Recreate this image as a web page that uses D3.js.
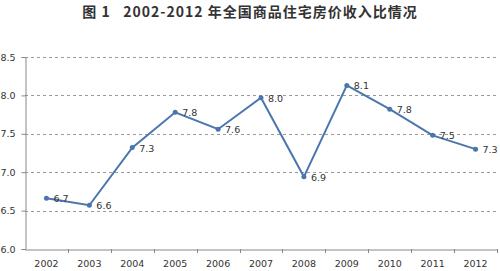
<!DOCTYPE html>
<html>
<head>
<meta charset="utf-8">
<script src="https://cdn.jsdelivr.net/npm/d3@7"></script>
<style>
  body { margin: 0; background: #fff; }
  svg { display: block; }
</style>
</head>
<body>
<div id="chart"></div>
<script>
// data
const years = ['2002', '2003', '2004', '2005', '2006', '2007', '2008', '2009', '2010', '2011', '2012'];
const ratios = [6.66, 6.57, 7.32, 7.78, 7.56, 7.97, 6.94, 8.13, 7.82, 7.48, 7.30];
const ratioLabels = ['6.7', '6.6', '7.3', '7.8', '7.6', '8.0', '6.9', '8.1', '7.8', '7.5', '7.3'];
const yTicks = [6.0, 6.5, 7.0, 7.5, 8.0, 8.5];

const W = 500, H = 271;
const margin = { top: 57, right: 3, bottom: 22, left: 25 };
const lineColor = '#4a76ad';

const svg = d3.select('#chart')
  .append('svg')
  .attr('width', W)
  .attr('height', H);

// title
svg.append('text')
  .attr('x', 250)
  .attr('y', 17)
  .attr('text-anchor', 'middle')
  .style('font-family', '"Noto Sans CJK SC", sans-serif')
  .style('font-size', '14px')
  .style('font-weight', 'bold')
  .style('fill', '#333')
  .style('letter-spacing', '1px')
  .style('white-space', 'pre')
  .text('图 1   2002-2012 年全国商品住宅房价收入比情况');

const x = d3.scaleBand()
  .domain(years)
  .range([margin.left, W - margin.right]);

const y = d3.scaleLinear()
  .domain([6, 8.5])
  .range([H - margin.bottom, margin.top]);

// dashed grid
svg.append('g')
  .selectAll('line')
  .data(yTicks.filter(d => d > 6))
  .join('line')
  .attr('x1', margin.left)
  .attr('x2', W - margin.right)
  .attr('y1', d => Math.round(y(d)) + 0.5)
  .attr('y2', d => Math.round(y(d)) + 0.5)
  .style('stroke', '#9a9a9a')
  .style('stroke-width', 1)
  .style('stroke-dasharray', '3,3');

// y axis
svg.append('g')
  .attr('transform', `translate(${margin.left + 0.5},0)`)
  .call(d3.axisLeft(y).tickValues(yTicks).tickFormat(d3.format('.1f')).tickSize(4).tickPadding(6));

// x axis
svg.append('g')
  .attr('transform', `translate(0,${Math.round(y(6)) + 0.5})`)
  .call(d3.axisBottom(x).tickSize(0).tickPadding(11));

// category boundary ticks
svg.append('g')
  .selectAll('line')
  .data(years)
  .join('line')
  .attr('x1', d => Math.round(x(d) + x.bandwidth()) + 0.5)
  .attr('x2', d => Math.round(x(d) + x.bandwidth()) + 0.5)
  .attr('y1', Math.round(y(6)))
  .attr('y2', Math.round(y(6)) + 4)
  .style('stroke', '#888');

svg.selectAll('.domain, .tick line').style('stroke', '#888');
svg.selectAll('.tick text')
  .style('font-family', '"DejaVu Sans", sans-serif')
  .style('font-size', '9.5px')
  .style('fill', '#333');

// the line
const pts = years.map((yr, i) => ({ yr, v: ratios[i], label: ratioLabels[i] }));

svg.append('path')
  .datum(pts)
  .attr('fill', 'none')
  .attr('stroke', lineColor)
  .attr('stroke-width', 2)
  .attr('d', d3.line()
    .x(d => x(d.yr) + x.bandwidth() / 2)
    .y(d => y(d.v)));

svg.append('g')
  .selectAll('circle')
  .data(pts)
  .join('circle')
  .attr('cx', d => x(d.yr) + x.bandwidth() / 2)
  .attr('cy', d => y(d.v))
  .attr('r', 2.5)
  .attr('fill', lineColor);

// value labels
svg.append('g')
  .selectAll('text')
  .data(pts)
  .join('text')
  .attr('x', d => x(d.yr) + x.bandwidth() / 2 + 7)
  .attr('y', d => y(d.v) + 4)
  .style('font-family', '"DejaVu Sans", sans-serif')
  .style('font-size', '9.5px')
  .style('fill', '#333')
  .text(d => d.label);
</script>
</body>
</html>
